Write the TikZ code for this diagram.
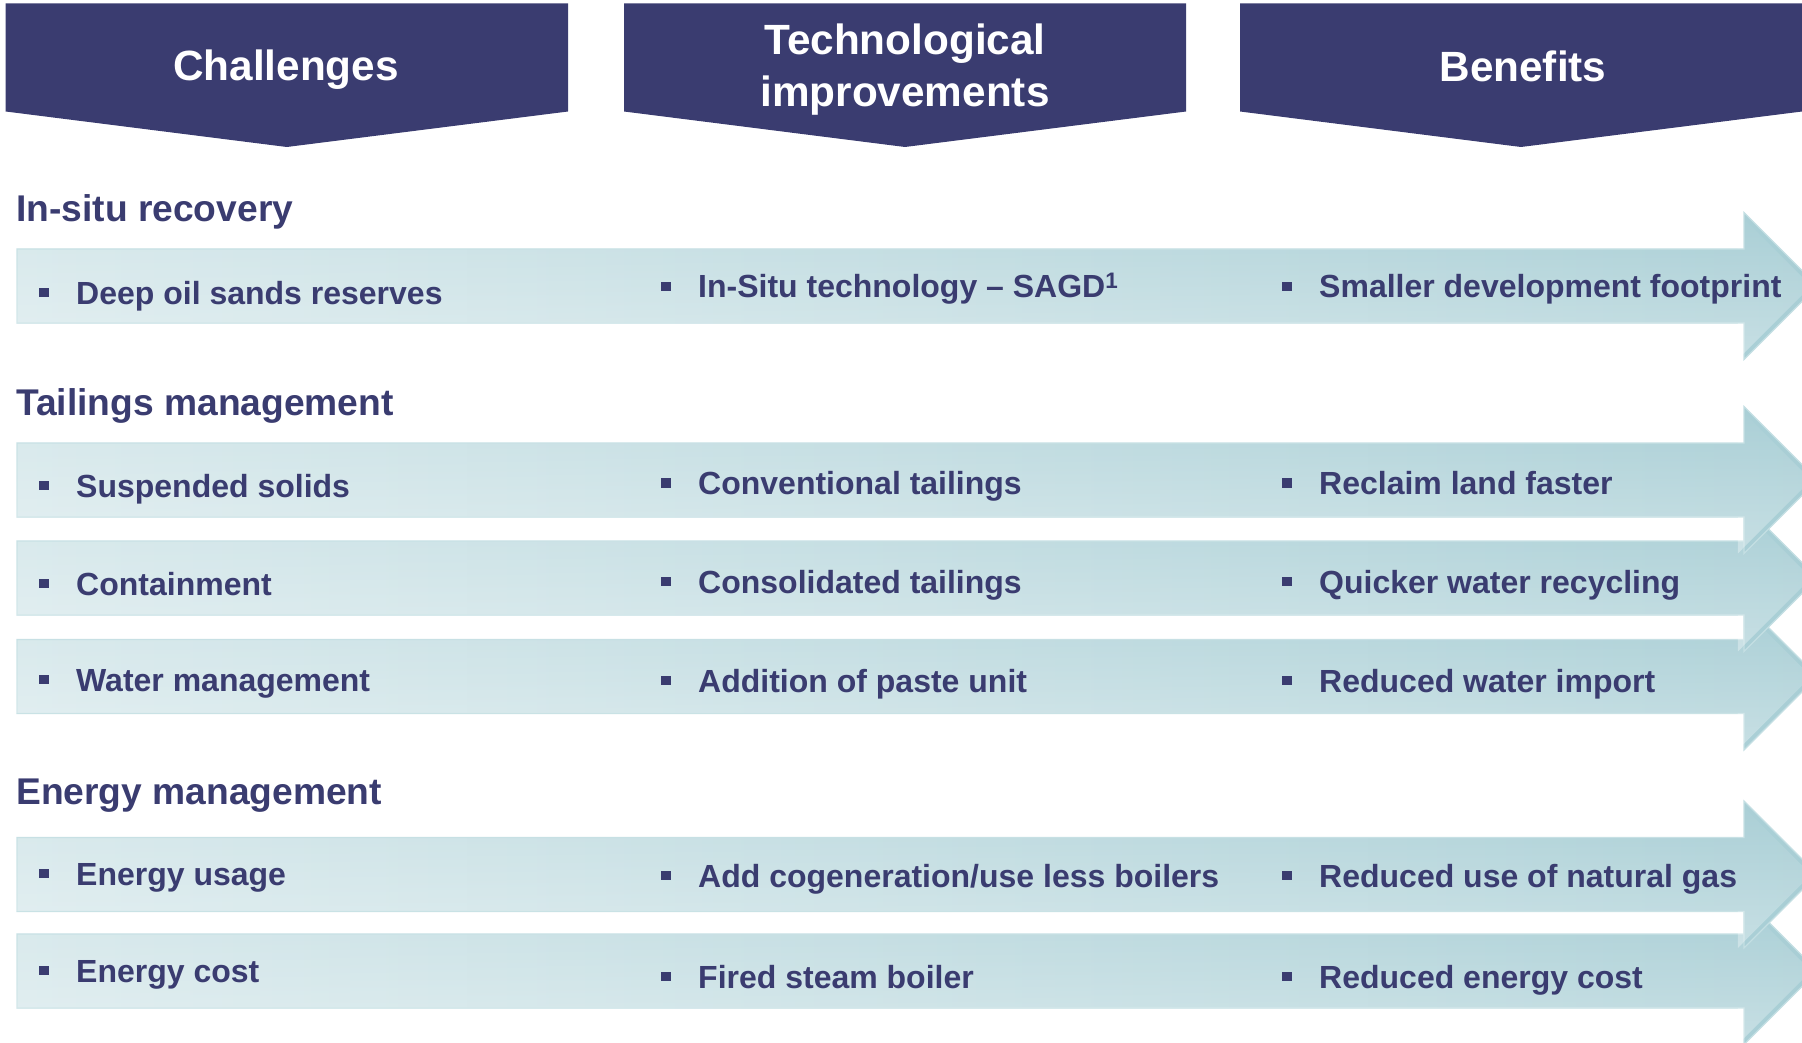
\documentclass[tikz,border=0pt]{standalone}
\usepackage{fontspec}
\setmainfont{Liberation Sans}
\usetikzlibrary{fadings}
\definecolor{navy}{HTML}{3A3C70}
\definecolor{bandL}{HTML}{D6E8EB}
\definecolor{bandR}{HTML}{A8CED5}
\definecolor{bandEdge}{HTML}{C4DFE3}
\newcommand\bandarrow[1]{%
  \path[left color=bandL, right color=bandR, draw=bandEdge, line width=1.2pt]
    (17,#1-37) -- (1744,#1-37) -- (1744,#1-73.5) -- (1817.5,#1) -- (1744,#1+73.5) -- (1744,#1+37) -- (17,#1+37) -- cycle;
  \fill[white, fill opacity=0.35, path fading=north]
    (17,#1-37) -- (1744,#1-37) -- (1744,#1-73.5) -- (1817.5,#1) -- (1744,#1+73.5) -- (1744,#1+37) -- (17,#1+37) -- cycle;
}
\newcommand\bulletsq[2]{\fill[navy] (#1-4.8,#2-16.3) rectangle (#1+4.8,#2-6.7);}
\begin{document}
\begin{tikzpicture}[x=1pt,y=-1pt,
  hdr/.style={text=white, font=\fontsize{42.3}{50}\selectfont\bfseries, inner sep=0pt, anchor=base},
  sect/.style={text=navy, font=\fontsize{37.2}{44}\selectfont\bfseries, inner sep=0pt, anchor=base west},
  item/.style={text=navy, font=\fontsize{32}{38}\selectfont\bfseries, inner sep=0pt, anchor=base west}]
\useasboundingbox (0,0) rectangle (1802,1043);
\clip (0,0) rectangle (1802,1043);
% headers
\fill[navy] (5.7,3.4) -- (568,3.4) -- (568,111.5) -- (286.8,147) -- (5.7,111.5) -- cycle;
\fill[navy] (624,3.4) -- (1186,3.4) -- (1186,111.5) -- (905,147) -- (624,111.5) -- cycle;
\fill[navy] (1240,3.4) -- (1802,3.4) -- (1802,111.5) -- (1521,147) -- (1240,111.5) -- cycle;
\node[hdr] (h1) at (286,80.5) {Challenges};
\node[hdr] (h2a) at (905,55) {Technological};
\node[hdr] (h2b) at (905,107) {improvements};
\node[hdr] (h3) at (1523,81.5) {Benefits};
% arrows (bottom rows first)
\bandarrow{971}
\bandarrow{874.5}
\bandarrow{676.5}
\bandarrow{578}
\bandarrow{480}
\bandarrow{286}
% section titles
\node[sect] (s1) at (16,221.5) {In-situ recovery};
\node[sect] (s2) at (16,415) {Tailings management};
\node[sect] (s3) at (16,804) {Energy management};
% row 1
\bulletsq{44}{304}\node[item] (r1a) at (76,304) {Deep oil sands reserves};
\bulletsq{666}{298}\node[item] (r1b) at (698,298) {In-Situ technology – SAGD\textsuperscript{1}};
\bulletsq{1287}{298}\node[item] (r1c) at (1319,298) {Smaller development footprint};
% row 2
\bulletsq{44}{497}\node[item] (r2a) at (76,497) {Suspended solids};
\bulletsq{666}{494.5}\node[item] (r2b) at (698,494.5) {Conventional tailings};
\bulletsq{1287}{494.5}\node[item] (r2c) at (1319,494.5) {Reclaim land faster};
% row 3
\bulletsq{44}{595}\node[item] (r3a) at (76,595) {Containment};
\bulletsq{666}{593}\node[item] (r3b) at (698,593) {Consolidated tailings};
\bulletsq{1287}{593}\node[item] (r3c) at (1319,593) {Quicker water recycling};
% row 4
\bulletsq{44}{691}\node[item] (r4a) at (76,691) {Water management};
\bulletsq{666}{692}\node[item] (r4b) at (698,692) {Addition of paste unit};
\bulletsq{1287}{692}\node[item] (r4c) at (1319,692) {Reduced water import};
% row 5
\bulletsq{44}{885}\node[item] (r5a) at (76,885) {Energy usage};
\bulletsq{666}{887}\node[item] (r5b) at (698,887) {Add cogeneration/use less boilers};
\bulletsq{1287}{887}\node[item] (r5c) at (1319,887) {Reduced use of natural gas};
% row 6
\bulletsq{44}{982}\node[item] (r6a) at (76,982) {Energy cost};
\bulletsq{666}{988}\node[item] (r6b) at (698,988) {Fired steam boiler};
\bulletsq{1287}{988}\node[item] (r6c) at (1319,988) {Reduced energy cost};
\end{tikzpicture}
\end{document}
